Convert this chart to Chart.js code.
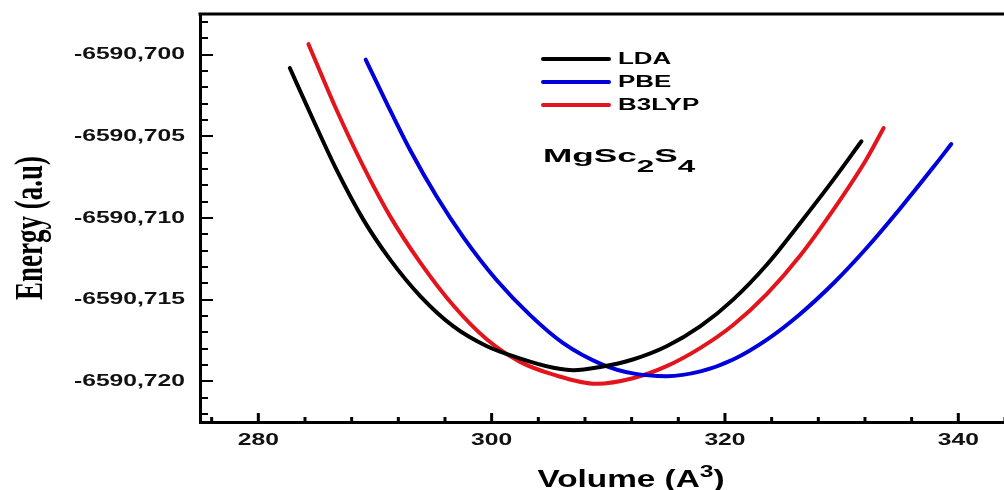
<!DOCTYPE html>
<html>
<head>
<meta charset="utf-8">
<script src="https://cdn.jsdelivr.net/npm/chart.js@4.4.0/dist/chart.umd.min.js"></script>
<style>
html,body{margin:0;padding:0;background:#fff;overflow:hidden;width:1004px;height:490px}
#wrap{position:absolute;left:0;top:0;width:1014px;height:490px}
</style>
</head>
<body>
<div id="wrap"><canvas id="c" width="1014" height="490"></canvas></div>
<script>
// ---- data ----
const seriesNames = ['LDA', 'PBE', 'B3LYP'];
const seriesColors = ['#000000', '#0000dc', '#e3141c'];

const volumeLDA = [282.7, 284.7, 286.7, 289.0, 291.3, 293.9, 296.7, 299.6, 302.4, 305.3, 307.0, 309.3, 312.1, 315.0, 317.9, 320.7, 323.6, 326.4, 329.3, 331.7];
const energyLDA = [-6590.70081, -6590.70398, -6590.70704, -6590.71010, -6590.71255, -6590.71480, -6590.71663, -6590.71786, -6590.71860, -6590.71918, -6590.71933, -6590.71913, -6590.71867, -6590.71786, -6590.71663, -6590.71500, -6590.71285, -6590.71035, -6590.70765, -6590.70530];

const volumePBE = [289.2, 291.0, 293.0, 295.3, 297.6, 300.4, 303.3, 306.1, 309.5, 312.1, 315.0, 317.9, 320.7, 323.6, 326.4, 329.3, 332.1, 335.0, 337.9, 339.4];
const energyPBE = [-6590.70030, -6590.70296, -6590.70582, -6590.70870, -6590.71120, -6590.71378, -6590.71595, -6590.71765, -6590.71898, -6590.71952, -6590.71969, -6590.71940, -6590.71867, -6590.71745, -6590.71591, -6590.71400, -6590.71187, -6590.70943, -6590.70685, -6590.70547];

const volumeB3LYP = [284.3, 286.7, 289.0, 291.3, 293.9, 296.7, 299.6, 302.4, 305.3, 309.0, 312.1, 315.0, 317.9, 320.7, 323.6, 326.4, 329.3, 332.1, 333.6];
const energyB3LYP = [-6590.69935, -6590.70337, -6590.70684, -6590.70990, -6590.71275, -6590.71535, -6590.71745, -6590.71880, -6590.71960, -6590.72016, -6590.71982, -6590.71908, -6590.71796, -6590.71656, -6590.71465, -6590.71235, -6590.70949, -6590.70643, -6590.70449];

const xTickValues = [280, 300, 320, 340];
const yTickValues = [-6590.720, -6590.715, -6590.710, -6590.705, -6590.700];
const xRange = [275, 344.5];
const yRange = [-6590.7225, -6590.6975];
const xMinorStep = 4;
const yMinorStep = 0.001;

const xAxisTitleParts = ['Volume (A', '3', ')'];
const yAxisTitle = 'Energy (a.u)';
const compoundParts = ['MgSc', '2', 'S', '4'];

// ---- helpers ----
const SANS = '"Liberation Sans", Arial, sans-serif';
const SERIF = '"Liberation Serif", "Times New Roman", serif';
const TICK_SX = 1.45;

function toPoints(xs, ys) { return xs.map((x, i) => ({ x: x, y: ys[i] })); }

function drawParts(ctx, parts, x, y, sx, align) {
  let total = 0;
  parts.forEach(p => { ctx.font = 'bold ' + p.size + 'px ' + SANS; p.w = ctx.measureText(p.t).width * sx; total += p.w; });
  let cx = align === 'center' ? x - total / 2 : x;
  parts.forEach(p => {
    ctx.save();
    ctx.font = 'bold ' + p.size + 'px ' + SANS;
    ctx.textAlign = 'left';
    ctx.textBaseline = 'alphabetic';
    ctx.fillStyle = '#000';
    ctx.translate(cx, y + p.dy);
    ctx.scale(sx, 1);
    ctx.fillText(p.t, 0, 0);
    ctx.restore();
    cx += p.w;
  });
}

const stretchLabels = {
  id: 'stretchLabels',
  beforeDraw(chart) {
    ['x', 'y'].forEach(id => {
      const s = chart.scales[id];
      if (!s || s.__stretched) return;
      const orig = s.drawLabels;
      s.drawLabels = function (ca) {
        const ctx = this.ctx;
        const ft = CanvasRenderingContext2D.prototype.fillText;
        ctx.fillText = function (t, x, y) {
          this.save(); this.translate(x, y); this.scale(TICK_SX, 1); ft.call(this, t, 0, 0); this.restore();
        };
        try { orig.call(this, ca); } finally { delete ctx.fillText; }
      };
      s.__stretched = true;
    });
  }
};

const decorations = {
  id: 'decorations',
  afterDatasetsDraw(chart) {
    const ctx = chart.ctx;
    const a = chart.chartArea;
    const xs = chart.scales.x, ys = chart.scales.y;
    ctx.save();
    ctx.strokeStyle = '#000';
    ctx.lineWidth = 3;
    ctx.beginPath();
    ctx.moveTo(a.left - 1.5, a.top); ctx.lineTo(a.right + 1.5, a.top);
    ctx.moveTo(a.right, a.top); ctx.lineTo(a.right, a.bottom);
    ctx.stroke();
    ctx.lineWidth = 2;
    const n0 = Math.ceil(ys.min / yMinorStep - 1e-6), n1 = Math.floor(ys.max / yMinorStep + 1e-6);
    for (let n = n0; n <= n1; n++) {
      const py = Math.round(ys.getPixelForValue(n * yMinorStep));
      const len = (n % 5 === 0) ? 13 : 8;
      ctx.beginPath(); ctx.moveTo(a.left, py); ctx.lineTo(a.left + len, py); ctx.stroke();
    }
    ctx.lineWidth = 3;
    const m0 = Math.ceil(xs.min / xMinorStep - 1e-6), m1 = Math.floor(xs.max / xMinorStep + 1e-6);
    for (let m = m0; m <= m1; m++) {
      const v = m * xMinorStep;
      const px = xs.getPixelForValue(v);
      const len = (v % 20 === 0) ? 9 : 5;
      ctx.beginPath(); ctx.moveTo(px, a.bottom); ctx.lineTo(px, a.bottom - len); ctx.stroke();
    }
    ctx.restore();

    chart.data.datasets.forEach((ds, i) => {
      const y = 59 + i * 23;
      ctx.save();
      ctx.strokeStyle = ds.borderColor;
      ctx.lineWidth = 4;
      ctx.lineCap = 'round';
      ctx.beginPath(); ctx.moveTo(543, y); ctx.lineTo(609, y); ctx.stroke();
      ctx.font = 'bold 16px ' + SANS;
      ctx.fillStyle = '#000';
      ctx.textBaseline = 'middle';
      ctx.translate(618, y + 1);
      ctx.scale(1.62, 1);
      ctx.fillText(ds.label, 0, 0);
      ctx.restore();
    });

    drawParts(ctx, [
      { t: compoundParts[0], size: 19, dy: 0 },
      { t: compoundParts[1], size: 17, dy: 10 },
      { t: compoundParts[2], size: 19, dy: 0 },
      { t: compoundParts[3], size: 17, dy: 10 }
    ], 543, 162, 1.85, 'left');

    drawParts(ctx, [
      { t: xAxisTitleParts[0], size: 23, dy: 0 },
      { t: xAxisTitleParts[1], size: 17, dy: -10 },
      { t: xAxisTitleParts[2], size: 23, dy: 0 }
    ], 631, 487, 1.45, 'center');

    ctx.save();
    ctx.font = 'bold 27px ' + SERIF;
    ctx.fillStyle = '#000';
    ctx.textAlign = 'center';
    ctx.textBaseline = 'alphabetic';
    ctx.translate(42, 228);
    ctx.rotate(-Math.PI / 2);
    ctx.scale(1, 1.5);
    ctx.fillText(yAxisTitle, 0, 0);
    ctx.restore();
  }
};

const seriesData = [
  toPoints(volumeLDA, energyLDA),
  toPoints(volumePBE, energyPBE),
  toPoints(volumeB3LYP, energyB3LYP)
];

new Chart(document.getElementById('c'), {
  type: 'line',
  data: {
    datasets: seriesNames.map((name, i) => ({
      label: name,
      data: seriesData[i],
      borderColor: seriesColors[i],
      backgroundColor: seriesColors[i],
      borderWidth: 4,
      pointRadius: 0,
      fill: false,
      cubicInterpolationMode: 'monotone',
      borderCapStyle: 'round',
      borderJoinStyle: 'round'
    }))
  },
  options: {
    responsive: false,
    animation: false,
    devicePixelRatio: 1,
    layout: { padding: { top: 14, right: 3.2, left: 0, bottom: 0 } },
    plugins: { legend: { display: false }, tooltip: { enabled: false }, title: { display: false } },
    scales: {
      x: {
        type: 'linear',
        min: xRange[0], max: xRange[1],
        grid: { display: false, drawTicks: false },
        border: { display: true, width: 3, color: '#000' },
        ticks: {
          padding: 8,
          color: '#111',
          font: { family: SANS, size: 17, weight: 'bold' },
          callback: v => String(v)
        },
        afterBuildTicks: s => { s.ticks = xTickValues.map(v => ({ value: v })); },
        afterFit: s => { s.height = 68; s.paddingLeft = 0; s.paddingRight = 0; }
      },
      y: {
        type: 'linear',
        min: yRange[0], max: yRange[1],
        grid: { display: false, drawTicks: false },
        border: { display: true, width: 3, color: '#000' },
        ticks: {
          padding: 15,
          color: '#111',
          font: { family: SANS, size: 17, weight: 'bold' },
          callback: v => Number(v).toFixed(3).replace('.', ',')
        },
        afterBuildTicks: s => { s.ticks = yTickValues.map(v => ({ value: v })); },
        afterFit: s => { s.width = 200; s.paddingTop = 0; s.paddingBottom = 0; }
      }
    }
  },
  plugins: [stretchLabels, decorations]
});
</script>
</body>
</html>
